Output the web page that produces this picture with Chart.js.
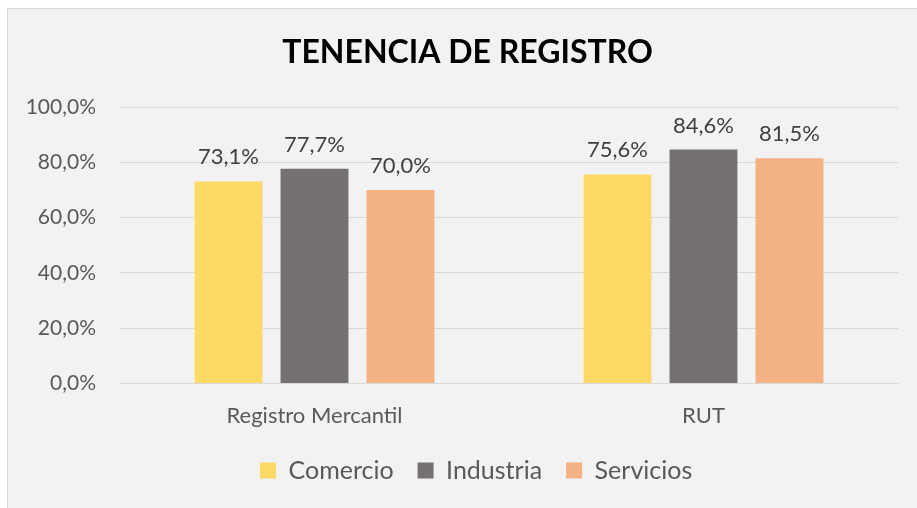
<!DOCTYPE html>
<html>
<head>
<meta charset="utf-8">
<script src="https://cdn.jsdelivr.net/npm/chart.js@4.4.1/dist/chart.umd.min.js"></script>
<style>
  html, body { margin: 0; padding: 0; background: #ffffff; width: 917px; height: 508px; overflow: hidden; }
  #frame { position: absolute; left: 7px; top: 8px; width: 915px; height: 505px; background: #f2f2f2; border-left: 1px solid #d9d9d9; border-top: 1px solid #d9d9d9; }
  #wrap { position: absolute; left: 0; top: 0; width: 917px; height: 508px; }
</style>
</head>
<body>
<div id="frame"></div>
<div id="wrap"><canvas id="c" width="917" height="508"></canvas></div>
<script>
const categories = ["Registro Mercantil", "RUT"];
const seriesNames = ["Comercio", "Industria", "Servicios"];
const comercio = [73.1, 75.6];
const industria = [77.7, 84.6];
const servicios = [70.0, 81.5];
const yTicks = [0, 20, 40, 60, 80, 100];
const titleText = "TENENCIA DE REGISTRO";
const colors = ["#FFD966", "#767171", "#F4B183"];

const FONT = "Lato, 'Open Sans', sans-serif";
const fmt = v => v.toFixed(1).replace('.', ',') + '%';

const dataLabels = {
  id: 'dataLabels',
  afterDatasetsDraw(chart) {
    const ctx = chart.ctx;
    ctx.save();
    ctx.font = "22px " + FONT;
    ctx.fillStyle = "#404040";
    ctx.textAlign = "center";
    ctx.textBaseline = "alphabetic";
    chart.data.datasets.forEach((ds, i) => {
      chart.getDatasetMeta(i).data.forEach((bar, j) => {
        ctx.fillText(fmt(ds.data[j]), bar.x, bar.y - 17);
      });
    });
    ctx.restore();
  }
};

const titlePlugin = {
  id: 'frameTitle',
  afterDraw(chart) {
    const ctx = chart.ctx;
    ctx.save();
    ctx.font = "bold 32px " + FONT;
    ctx.fillStyle = "#000000";
    ctx.textAlign = "center";
    ctx.textBaseline = "middle";
    ctx.fillText(titleText, 467.5, 53);
    ctx.restore();
  }
};

// shift the legend horizontally so its first box starts where the reference's does
const legendShift = {
  id: 'legendShift',
  afterLayout(chart) {
    const lg = chart.legend;
    if (!lg || !lg.lineWidths) return;
    const pad = lg.options.labels.padding;
    const naturalX = (lg.left + pad + lg.right - lg.lineWidths[0]) / 2;
    const shift = 260 - naturalX;
    lg.left += shift;
    lg.right += shift;
  }
};

new Chart(document.getElementById('c'), {
  type: 'bar',
  data: {
    labels: categories,
    datasets: [
      { label: seriesNames[0], data: comercio, backgroundColor: colors[0] },
      { label: seriesNames[1], data: industria, backgroundColor: colors[1] },
      { label: seriesNames[2], data: servicios, backgroundColor: colors[2] }
    ]
  },
  options: {
    responsive: false,
    animation: false,
    layout: { padding: { left: 0, right: 19, top: 107, bottom: 15 } },
    datasets: { bar: { categoryPercentage: 0.663, barPercentage: 0.79 } },
    plugins: {
      title: { display: false },
      legend: {
        position: 'bottom',
        labels: {
          boxWidth: 16, boxHeight: 16, padding: 24,
          color: "#595959",
          font: { family: FONT, size: 25 }
        }
      },
      tooltip: { enabled: false }
    },
    scales: {
      x: {
        grid: { display: false, drawTicks: false },
        border: { display: true, color: "#d9d9d9", width: 1 },
        ticks: { color: "#595959", font: { family: FONT, size: 22 }, padding: 19 },
        afterFit(s) { s.height = 50.5; }
      },
      y: {
        min: 0, max: 100,
        afterBuildTicks(s) { s.ticks = yTicks.map(v => ({ value: v })); },
        grid: { color: "#d9d9d9", lineWidth: 1, drawTicks: false },
        border: { display: false },
        ticks: { color: "#595959", font: { family: FONT, size: 21 }, padding: 24, callback: v => fmt(v) },
        afterFit(s) { s.width = 120; }
      }
    }
  },
  plugins: [dataLabels, titlePlugin, legendShift]
});
</script>
</body>
</html>
